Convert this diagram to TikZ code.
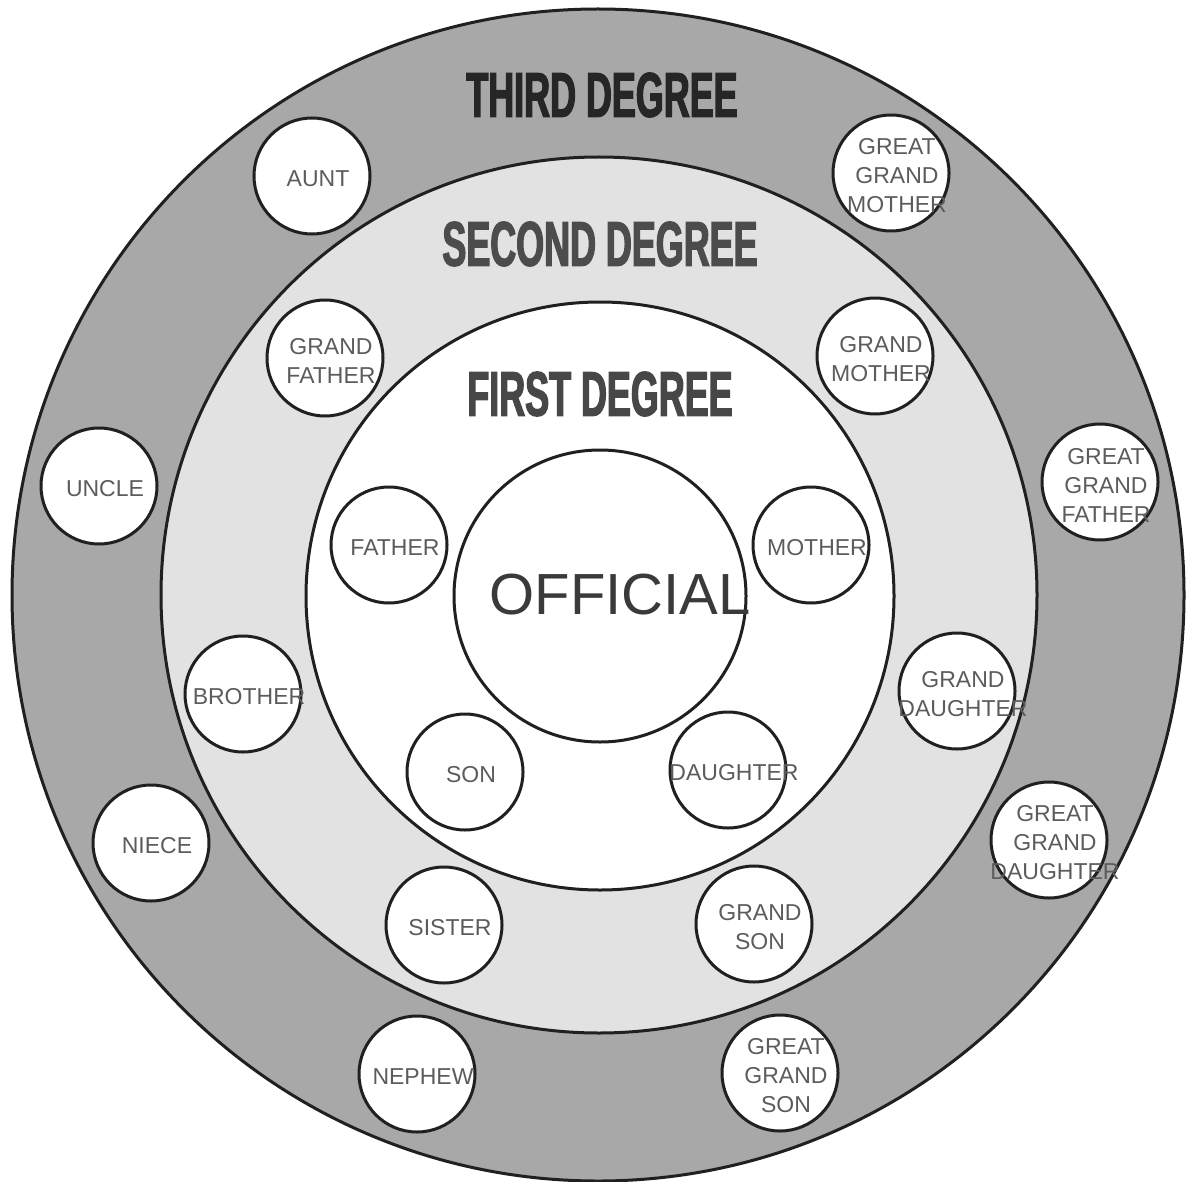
\documentclass[tikz,border=0pt]{standalone}
\usepackage{fontspec}
\setmainfont{Liberation Sans}
\newfontfamily\degfont{Liberation Sans}[FakeStretch=0.57, BoldFeatures={FakeBold=2}]
\definecolor{ringdark}{HTML}{A8A8A8}
\definecolor{ringlight}{HTML}{E2E2E2}
\definecolor{edge}{HTML}{202020}
\definecolor{kingray}{HTML}{5C5C5C}
\definecolor{offgray}{HTML}{3A3A3A}
\tikzset{
  ring/.style={circle, draw=edge, line width=3pt, inner sep=0pt},
  kin/.style={circle, draw=edge, line width=3pt, fill=white, minimum size=116pt, inner sep=0pt,
    label={[kinlabel]center:#1}},
  kinlabel/.style={align=center, text=kingray, font=\fontsize{23}{29}\selectfont, xshift=6pt, yshift=-3pt},
  grado/.style={font=\degfont\bfseries\fontsize{63}{63}\selectfont},
}
\begin{document}
\begin{tikzpicture}[x=1pt, y=-1pt]
  \useasboundingbox (0,0) rectangle (1188,1182);
  \node[ring, fill=ringdark, minimum size=1172pt] (third) at (598,595) {};
  \node[ring, fill=ringlight, minimum size=876pt] (second) at (599,595) {};
  \node[ring, fill=white, minimum size=588pt] (first) at (600,596) {};
  \node[ring, fill=white, minimum size=292pt] (official) at (600,596) {};
  \node[font=\fontsize{58}{58}\selectfont, text=offgray] (offlabel) at (620,595) {OFFICIAL};

  \node[grado, text=black!85] (thirdtitle) at (602,95) {THIRD DEGREE};
  \node[grado, text=black!70] (secondtitle) at (600,244) {SECOND DEGREE};
  \node[grado, text=black!72] (firsttitle) at (600,394) {FIRST DEGREE};

  \node[kin={AUNT}] (aunt) at (312,176) {};
  \node[kin={GREAT\\GRAND\\MOTHER}] (ggmother) at (891,173) {};
  \node[kin={GRAND\\FATHER}] (gfather) at (325,358) {};
  \node[kin={GRAND\\MOTHER}] (gmother) at (875,356) {};
  \node[kin={UNCLE}] (uncle) at (99,486) {};
  \node[kin={GREAT\\GRAND\\FATHER}] (ggfather) at (1100,482) {};
  \node[kin={FATHER}] (father) at (389,545) {};
  \node[kin={MOTHER}] (mother) at (811,545) {};
  \node[kin={BROTHER}] (brother) at (243,694) {};
  \node[kin={GRAND\\DAUGHTER}] (gdaughter) at (957,691) {};
  \node[kin={SON}] (son) at (465,772) {};
  \node[kin={DAUGHTER}] (daughter) at (728,770) {};
  \node[kin={NIECE}] (niece) at (151,843) {};
  \node[kin={GREAT\\GRAND\\DAUGHTER}] (ggdaughter) at (1049,840) {};
  \node[kin={SISTER}] (sister) at (444,925) {};
  \node[kin={GRAND\\SON}] (gson) at (754,924) {};
  \node[kin={NEPHEW}] (nephew) at (417,1074) {};
  \node[kin={GREAT\\GRAND\\SON}] (ggson) at (780,1073) {};
\end{tikzpicture}
\end{document}
